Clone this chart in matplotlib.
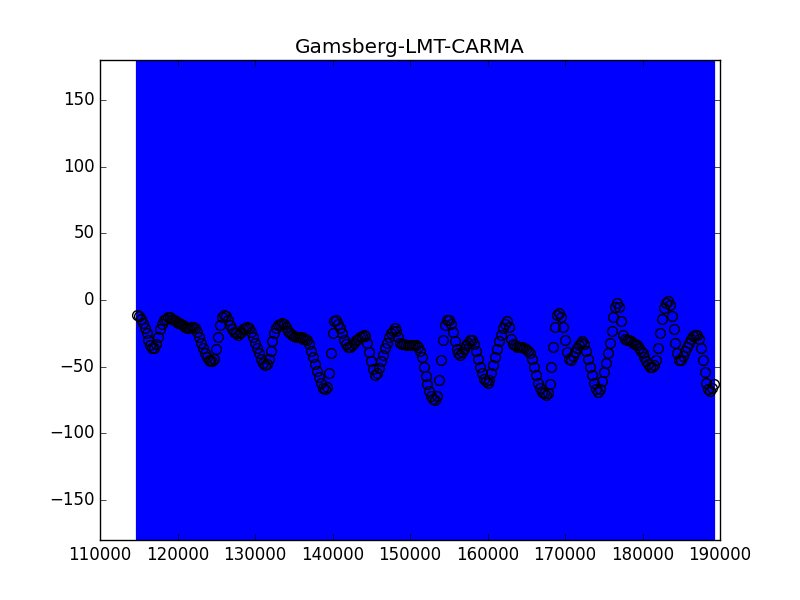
import matplotlib
matplotlib.use("Agg")
import matplotlib.pyplot as plt
import numpy as np

plt.style.use('classic')

title = "Gamsberg-LMT-CARMA"

# time in thousands of seconds
time_k = [114.75,
    115.0, 115.25, 115.5, 115.75, 116.0, 116.25, 116.5, 116.75,
    117.0, 117.25, 117.5, 117.75, 118.0, 118.25, 118.5, 118.75,
    119.0, 119.25, 119.5, 119.75, 120.0, 120.25, 120.5, 120.75,
    121.0, 121.25, 121.5, 121.75, 122.0, 122.25, 122.5, 122.75,
    123.0, 123.25, 123.5, 123.75, 124.0, 124.25, 124.5, 124.75,
    125.0, 125.25, 125.5, 125.75, 126.0, 126.25, 126.5, 126.75,
    127.0, 127.25, 127.5, 127.75, 128.0, 128.25, 128.5, 128.75,
    129.0, 129.25, 129.5, 129.75, 130.0, 130.25, 130.5, 130.75,
    131.0, 131.25, 131.5, 131.75, 132.0, 132.25, 132.5, 132.75,
    133.0, 133.25, 133.5, 133.75, 134.0, 134.25, 134.5, 134.75,
    135.0, 135.25, 135.5, 135.75, 136.0, 136.25, 136.5, 136.75,
    137.0, 137.25, 137.5, 137.75, 138.0, 138.25, 138.5, 138.75,
    139.0, 139.25, 139.5, 139.75, 140.0, 140.25, 140.5, 140.75,
    141.0, 141.25, 141.5, 141.75, 142.0, 142.25, 142.5, 142.75,
    143.0, 143.25, 143.5, 143.75, 144.0, 144.25, 144.5, 144.75,
    145.0, 145.25, 145.5, 145.75, 146.0, 146.25, 146.5, 146.75,
    147.0, 147.25, 147.5, 147.75, 148.0, 148.25, 148.5, 148.75,
    149.0, 149.25, 149.5, 149.75, 150.0, 150.25, 150.5, 150.75,
    151.0, 151.25, 151.5, 151.75, 152.0, 152.25, 152.5, 152.75,
    153.0, 153.25, 153.5, 153.75, 154.0, 154.25, 154.5, 154.75,
    155.0, 155.25, 155.5, 155.75, 156.0, 156.25, 156.5, 156.75,
    157.0, 157.25, 157.5, 157.75, 158.0, 158.25, 158.5, 158.75,
    159.0, 159.25, 159.5, 159.75, 160.0, 160.25, 160.5, 160.75,
    161.0, 161.25, 161.5, 161.75, 162.0, 162.25, 162.5, 162.75,
    163.0, 163.25, 163.5, 163.75, 164.0, 164.25, 164.5, 164.75,
    165.0, 165.25, 165.5, 165.75, 166.0, 166.25, 166.5, 166.75,
    167.0, 167.25, 167.5, 167.75, 168.0, 168.25, 168.5, 168.75,
    169.0, 169.25, 169.5, 169.75, 170.0, 170.25, 170.5, 170.75,
    171.0, 171.25, 171.5, 171.75, 172.0, 172.25, 172.5, 172.75,
    173.0, 173.25, 173.5, 173.75, 174.0, 174.25, 174.5, 174.75,
    175.0, 175.25, 175.5, 175.75, 176.0, 176.25, 176.5, 176.75,
    177.0, 177.25, 177.5, 177.75, 178.0, 178.25, 178.5, 178.75,
    179.0, 179.25, 179.5, 179.75, 180.0, 180.25, 180.5, 180.75,
    181.0, 181.25, 181.5, 181.75, 182.0, 182.25, 182.5, 182.75,
    183.0, 183.25, 183.5, 183.75, 184.0, 184.25, 184.5, 184.75,
    185.0, 185.25, 185.5, 185.75, 186.0, 186.25, 186.5, 186.75,
    187.0, 187.25, 187.5, 187.75, 188.0, 188.25, 188.5, 188.75,
    189.0, 189.25]

phase = [-11,
    -12, -14, -17, -21, -25, -30, -34, -36,
    -36, -33, -28, -22, -18, -15, -14, -13,
    -13, -14, -15, -16, -17, -17, -18, -19,
    -20, -21, -21, -20, -20, -21, -24, -28,
    -32, -36, -40, -43, -45, -46, -46, -44,
    -37, -28, -19, -13, -11, -12, -15, -19,
    -22, -24, -25, -26, -25, -24, -22, -21,
    -20, -21, -24, -28, -32, -36, -40, -44,
    -47, -49, -48, -44, -38, -31, -25, -21,
    -19, -18, -17, -18, -20, -23, -25, -26,
    -27, -28, -28, -28, -28, -29, -29, -30,
    -33, -38, -43, -48, -53, -58, -62, -66,
    -67, -65, -55, -40, -25, -16, -15, -18,
    -21, -25, -30, -33, -35, -35, -34, -32,
    -30, -29, -28, -27, -26, -27, -32, -39,
    -46, -52, -56, -55, -51, -46, -41, -36,
    -32, -28, -25, -23, -21, -23, -28, -32,
    -33, -33, -34, -34, -34, -34, -34, -34,
    -35, -38, -43, -50, -57, -63, -68, -72,
    -74, -75, -72, -60, -45, -30, -19, -15,
    -15, -18, -24, -31, -37, -40, -41, -39,
    -37, -34, -32, -30, -30, -33, -38, -44,
    -50, -55, -59, -61, -62, -60, -55, -49,
    -43, -37, -31, -26, -21, -18, -16, -20,
    -29, -33, -34, -35, -35, -35, -35, -36,
    -37, -38, -40, -44, -50, -56, -62, -66,
    -69, -70, -71, -70, -63, -50, -35, -20,
    -11, -10, -13, -20, -30, -39, -44, -45,
    -42, -39, -36, -34, -32, -31, -33, -38,
    -44, -50, -56, -62, -67, -69, -67, -61,
    -54, -47, -40, -32, -23, -13, -5, -2,
    -5, -16, -26, -29, -30, -30, -31, -32,
    -33, -34, -36, -38, -40, -43, -46, -48,
    -50, -50, -49, -45, -36, -25, -14, -6,
    -2, -1, -4, -12, -22, -32, -40, -45,
    -45, -42, -38, -35, -32, -29, -27, -26,
    -26, -29, -36, -45, -54, -62, -67, -68,
    -66, -63]

phase_err = [360] * len(phase)

x = np.array(time_k) * 1000.0

fig = plt.figure(figsize=(8, 6), dpi=100)
ax = fig.add_subplot(111)
ax.errorbar(x, phase, yerr=phase_err, fmt='o', mfc='none', mec='k',
            mew=1.0, ecolor='b', elinewidth=1.6, capsize=0, markersize=7)
ax.set_xlim(110000, 190000)
ax.set_ylim(-180, 180)
ax.set_title(title)
fig.savefig("out.png", dpi=100)
